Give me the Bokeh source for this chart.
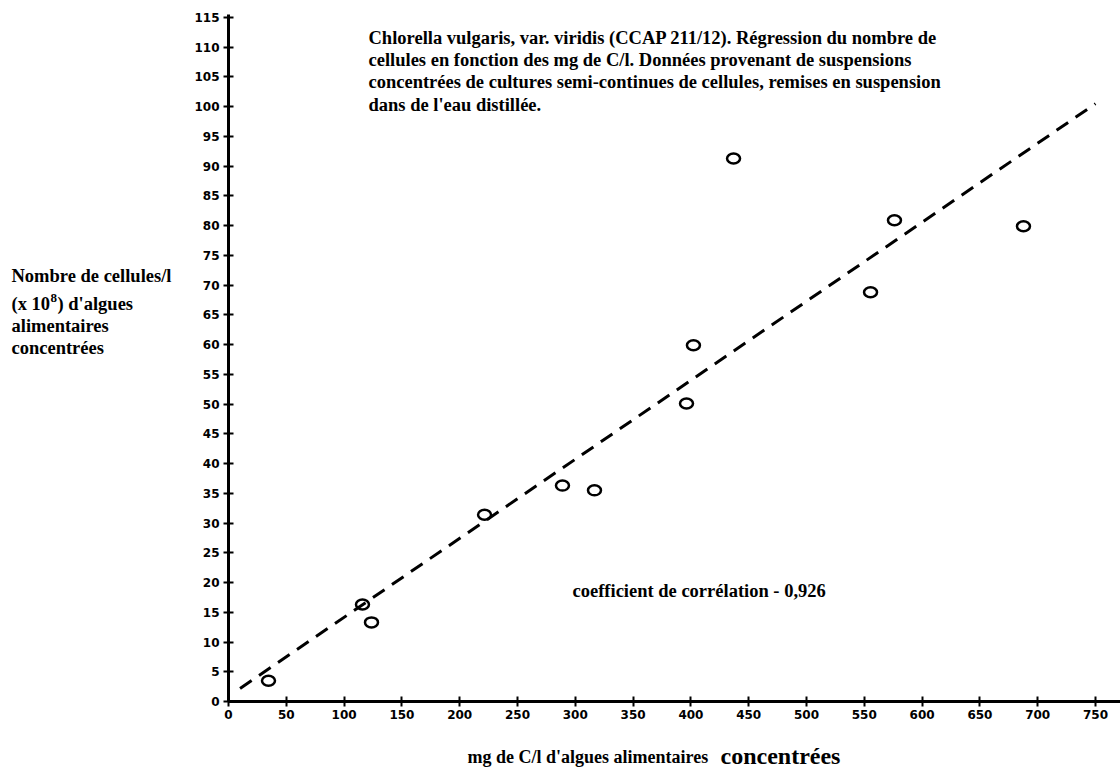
from bokeh.plotting import figure
from bokeh.models import Label, FixedTicker, Range1d
from bokeh.embed import file_html
from bokeh.resources import INLINE

# ---- data ----
carbon_mg = [34.6, 115.9, 123.7, 221.5, 288.9, 316.6, 396.2, 402.2, 436.9, 555.4, 576.1, 687.7]
cells_e8 = [3.5, 16.3, 13.3, 31.4, 36.3, 35.5, 50.1, 59.9, 91.3, 68.8, 80.9, 79.9]
fit_x = [10, 750]
fit_y = [2.2, 100.5]
x_ticks = [0, 50, 100, 150, 200, 250, 300, 350, 400, 450, 500, 550, 600, 650, 700, 750]
y_ticks = [0, 5, 10, 15, 20, 25, 30, 35, 40, 45, 50, 55, 60, 65, 70, 75, 80, 85, 90, 95,
           100, 105, 110, 115]

title_lines = [
    "Chlorella vulgaris, var. viridis (CCAP 211/12). Régression du nombre de",
    "cellules en fonction des mg de C/l. Données provenant de suspensions",
    "concentrées de cultures semi-continues de cellules, remises en suspension",
    "dans de l'eau distillée.",
]
corr_text = "coefficient de corrélation - 0,926"

W, H = 1120, 769
# frame covers the whole canvas; axes sit at data 0 via fixed_location
X0, Y0 = 228, 701          # page position of the data origin
SX, SY = 1.1560, 5.948     # pixels per data unit
p = figure(width=W, height=H, output_backend="svg", toolbar_location=None,
           x_range=Range1d(-X0 / SX, (W - X0) / SX),
           y_range=Range1d(-(H - Y0) / SY, Y0 / SY),
           min_border=0)
p.background_fill_color = "white"
p.border_fill_color = "white"
p.outline_line_color = None
p.xgrid.visible = False
p.ygrid.visible = False

for ax in (p.xaxis[0], p.yaxis[0]):
    ax.fixed_location = 0
    ax.axis_line_width = 3
    ax.axis_line_color = "black"
    ax.major_tick_line_width = 2
    ax.major_tick_line_color = "black"
    ax.major_tick_in = 5
    ax.major_tick_out = 5
    ax.minor_tick_line_color = None
    ax.major_label_text_font = "DejaVu Sans"
    ax.major_label_text_font_style = "bold"
    ax.major_label_text_font_size = "12px"
    ax.major_label_text_color = "black"
p.xaxis.ticker = FixedTicker(ticks=x_ticks)
p.yaxis.ticker = FixedTicker(ticks=y_ticks)
p.xaxis.bounds = (0, (W - X0) / SX)
p.yaxis.bounds = (0, 115.5)
p.xaxis.major_label_standoff = 3
p.yaxis.major_label_standoff = 4

p.line(fit_x, fit_y, line_color="black", line_width=3, line_dash="14 9")
p.ellipse(x=carbon_mg, y=cells_e8, width=13, height=10, width_units="screen",
          height_units="screen", fill_alpha=0, line_color="black", line_width=2.5)

# page pixel -> data helper for text placement
def X(px):
    return (px - X0) / SX

def Y(py):
    return (Y0 - py) / SY

serif = "Liberation Serif"

def add_text(txt, px, py, size):
    p.add_layout(Label(x=X(px), y=Y(py), text=txt, text_font=serif, text_font_style="bold",
                       text_font_size=size, text_color="black", text_baseline="alphabetic",
                       text_align="left"))

for i, line in enumerate(title_lines):
    add_text(line, 368, 37 + 22.4 * i, "18.5px")

add_text(corr_text, 572, 590, "18.5px")

# y axis label
add_text("Nombre de cellules/l", 11, 275, "18.5px")
add_text("(x 10", 11, 303, "18.5px")
add_text("8", 50, 297, "13px")
add_text(") d'algues", 57, 303, "18.5px")
add_text("alimentaires", 11, 325, "18.5px")
add_text("concentrées", 11, 347, "18.5px")

# x axis label
add_text("mg de C/l d'algues alimentaires", 467, 756, "18px")
add_text("concentrées", 720, 755, "24px")

open("out.html", "w").write(file_html(p, INLINE))
